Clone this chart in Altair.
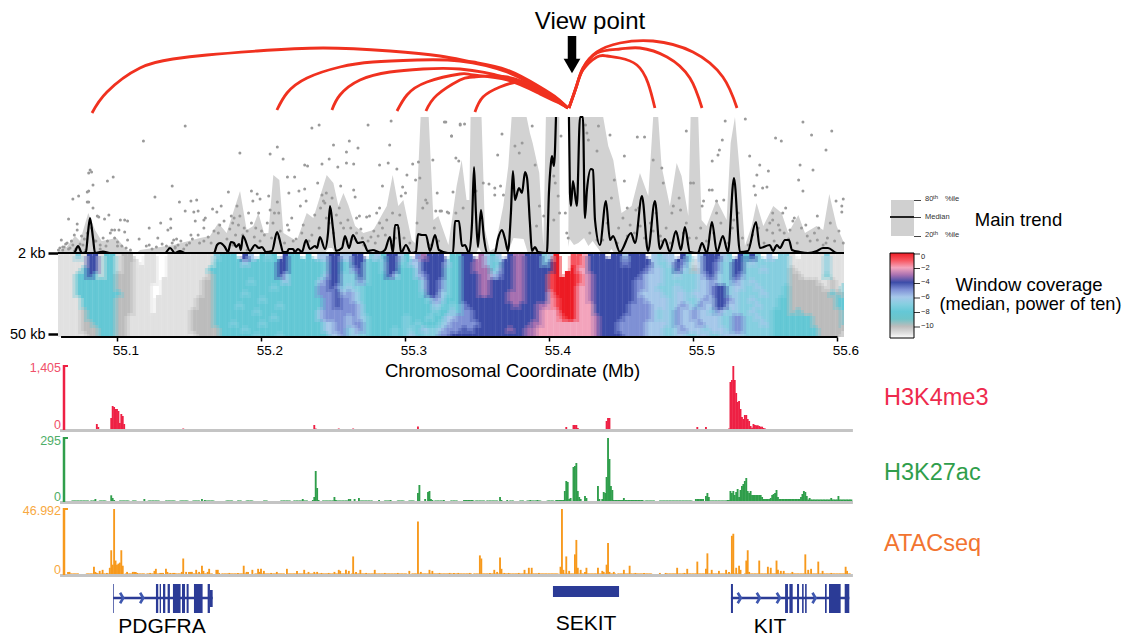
import altair as alt
import pandas as pd

# ---------- genomic x axis: kb past 55.0 Mb ----------
x_domain = [23.96, 798.96]
tick_kb = [100, 200, 300, 400, 500, 600]

# ---------- contact arcs: (kb, arc height) ----------
arcs = [
 [(82.3,-5),(92.7,16),(115.6,40),(138.5,49),(162.1,53),(196.9,57),(242.7,60),(289.2,57),(323.9,52),(346.9,46),(370.5,38),(393.4,21),(405.2,10),(412.8,0)],
 [(210.7,-2),(217.7,15),(231.6,30),(254.5,41),(277.4,46),(308,48),(337.8,47),(370.5,36),(393.4,19),(405.2,9),(412.8,0)],
 [(248.9,-2),(254.5,13),(268.4,28),(289.2,36),(312.1,39),(337.8,39),(370.5,30),(393.4,16),(405.2,7),(412.8,0)],
 [(294.1,-3),(301,13),(314.9,26),(337.8,34),(346.9,33),(370.5,28),(393.4,14),(405.2,6),(412.8,0)],
 [(314.2,-3),(321.9,13),(337.8,28),(346.9,31),(370.5,31),(393.4,18),(405.2,8),(412.8,0)],
 [(348.2,-4),(353.8,11),(365.6,21),(379.5,26),(393.4,20),(405.2,8),(412.8,0)],
 [(413.5,0),(419,23),(423.2,38),(432.9,51),(439.9,52),(448.9,50),(460.7,43),(468.4,25),(473.2,0)],
 [(413.5,0),(419,23),(423.2,39),(432.9,55),(448.9,59),(462.8,60),(481.6,51),(497.5,30),(505.9,0)],
 [(413.5,0),(419,23),(423.2,40),(432.9,56),(448.9,65),(471.9,67),(499.6,56),(520.4,31),(530.2,0)],
]

# ---------- main trend ----------
median_trend = [(60.1,0),(69.8,0),(72.6,7),(75.3,0),(78.1,1),(79.5,20),(80.9,35),(83,15),(84.4,0),(89.9,1.5),(94.8,0),(133,0),(136.5,5),(139.9,0),(143.4,2),(146.9,0),(167,0),(169.1,8),(171.2,10),(174.6,6),(176.7,1),(178.8,11),(180.9,10),(182.3,6),(184.4,9),(185.7,3),(187.1,17),(192,2),(195.5,8),(198.2,5),(200.3,6),(203.1,1),(207.3,2),(210.8,21),(213.5,8),(214.9,1),(217.7,1),(219,4),(221.9,4),(223.2,1),(225.3,4),(228.1,1),(230.9,13),(233.7,4),(237.1,7),(238.5,5),(240.6,16),(244.1,4),(246.2,20),(247.6,47),(249.6,25),(251.7,2),(255.9,5),(258,17),(260.8,5),(263.5,18),(267,10),(270.5,11),(273.9,2),(277.4,3),(282.3,0.5),(285.7,3),(289.2,16),(291.3,0),(292.7,28),(294.8,28),(296.9,0),(300.3,8),(303.8,0),(307.3,1),(308.7,19),(311.4,18),(314.2,18),(317,2),(320.5,18),(323.2,3),(329.5,0),(333,0),(334.4,32),(337.1,32),(339.2,7),(341.3,8),(344.1,0),(346.2,30),(347.6,86),(348.9,40),(350.3,6),(352.4,43),(354.5,15),(356.6,0),(362.1,0),(364.2,14),(367,23),(369.1,14),(371.2,2),(373.2,40),(374.6,82),(376,53),(378.8,65),(380.9,60),(383,81),(384.4,75),(386.4,30),(387.8,2),(389.9,6),(392,1),(398.2,0),(399.6,60),(401,90),(401.7,97),(403.1,87),(404.5,136),(405,None),(413,None),(413.5,136),(414.2,60),(414.9,47),(416.3,72),(419,47),(421.2,136),(423.2,136),(424.6,35),(426,63),(428.8,84),(430.2,83),(431.6,33),(435,8),(439.2,52),(442,13),(444.1,17),(448.9,1),(456.6,20),(459.4,10),(464.2,57),(468.4,2),(473.2,52),(476.7,4),(480.2,14),(483.6,1),(487.8,22),(491.3,3),(494,26),(497.5,1),(503.1,0),(505.9,10),(509.3,0),(512.8,31),(516.3,1),(520.4,17),(523.9,1),(528.1,75),(532.3,1),(537.8,2),(543.4,31),(546.1,5),(553,8),(555.2,2),(557.9,8),(560,5),(563.5,13),(566.3,13),(568.4,3),(573.9,1),(579.5,0),(585.7,2),(589.9,5),(593.4,5),(599.6,0),(603.8,0)]

p80_trend = [(58.9,2),(64.7,6),(70.5,17),(74,12),(79.7,40),(84.4,23),(89,12),(99.4,15),(106.4,3),(113.3,0),(115.6,3),(138.8,8),(157.3,15),(164.2,17),(170,30),(175.8,20),(185.1,62),(189.7,23),(194.3,27),(197.8,40),(201.8,20),(204.8,20),(208.2,78),(212.4,73),(215.2,20),(224.4,12),(231.4,40),(236,35),(245.3,78),(249.9,70),(253.4,47),(256.9,60),(260.3,48),(265,27),(270.7,20),(277.7,23),(287,47),(291.1,78),(295,47),(298.5,53),(304.3,13),(306.6,10),(310.5,136),(316.1,136),(319.4,33),(322.8,37),(329.8,8),(335.5,67),(339,93),(342.4,53),(344.3,53),(345.2,136),(352.8,136),(355.2,23),(358.6,2),(362.1,5),(367.9,47),(371.4,87),(373.7,136),(384.1,136),(386.4,120),(388.3,110),(392.9,80),(395.7,7),(397.5,136),(406.8,136),(407.2,0),(413,0),(413.7,136),(437.3,136),(440.8,107),(444.3,93),(450,40),(457,47),(462.8,80),(468.6,57),(472,136),(475.5,136),(477.8,87),(483.6,47),(488.3,90),(491.7,77),(496.4,37),(498,136),(503.3,136),(505.6,33),(509.1,27),(516,53),(523,33),(525.8,110),(528.8,136),(532.2,80),(535.7,7),(540.4,27),(543.8,50),(548.5,27),(555.4,47),(561.2,40),(565.8,20),(572.8,38),(577.4,20),(585.5,27),(590.1,23),(594.3,59),(599.4,27),(604.5,10)]

p20_trend = [(244,0),(246.5,5),(249,5),(251,0),(349,0),(351,5),(353,0),(371,0),(375,15),(382,14),(385,0),(412,0),(414,14),(417,8),(420,10),(424,15),(427,7),(430,12),(436,0),(441,0),(443,4),(445,0)]

scatter_kb = [81,80,82,83,80,79,79,80,73,69,66,72,72,61,60,68,70,75,83,86,87,94,91,93,97,96,98,101,102,105,107,105,107,100,118,115,122,120,122,126,128,130,135,137,137,138,139,141,143,147,147,151,155,153,156,154,160,161,160,151,156,166,169,172,177,179,180,185,183,185,193,197,199,194,198,191,205,206,211,215,211,212,206,218,223,219,226,230,231,227,219,235,240,230,232,242,247,250,239,245,242,243,253,259,264,259,261,267,274,255,264,265,268,273,275,280,282,282,288,290,289,294,284,298,300,297,301,305,309,307,310,314,315,319,322,321,325,330,328,332,337,338,262,266,270,274,278,282,286,290,295,299,255,250,245,240,235,228,222,218,212,208,200,195,188,182,176,170,165,160,150,142,327,338,341,332,335,333,324,329,367,364,354,358,362,366,368,362,349,335,340,379,381,376,390,388,408,403,406,407,404,393,391,396,425,427,426,433,434,442,445,452,461,466,452,454,460,472,478,479,495,513,517,518,520,522,536,539,546,544,552,542,543,548,551,557,561,576,582,574,583,573,576,592,596,599,604,603,603,586,564,562,555,555,551,555,560,567,569,579,586,592,513,511,507,506,516,521,528,516,498,500,486,491,485,412,413,411,403,428,433,437,447,454,463,472,477,484,493,502,64,66,63,76,78,84,88,92,62,70,136,140,146,180,190]
scatter_h = [83,80,81,68,62,61,51,51,57,54,34,29,23,13,5,12,18,17,45,37,36,38,34,72,76,23,23,23,33,33,32,21,13,7,112,14,25,7,8,56,15,30,23,34,25,67,13,14,51,42,127,52,53,41,42,32,33,35,25,18,18,44,41,47,61,37,30,100,47,37,62,59,54,52,40,40,57,99,106,94,51,40,43,76,76,60,62,64,52,47,23,125,128,88,87,89,94,108,70,60,58,52,86,90,89,101,112,105,128,67,63,56,37,36,37,40,45,88,90,132,108,84,67,66,60,57,78,89,91,73,75,53,50,93,60,42,42,40,131,117,92,128,25,20,15,12,22,30,18,12,25,15,30,20,35,25,18,20,12,28,15,30,22,16,25,18,14,20,10,12,10,8,131,129,129,117,95,61,42,41,119,98,70,69,65,67,58,58,62,40,45,100,110,107,88,127,117,77,57,40,70,47,27,37,128,113,120,102,127,118,73,97,116,116,72,45,43,93,85,70,122,92,98,103,113,132,134,97,88,78,82,67,58,65,66,115,112,131,118,88,83,73,62,103,122,52,54,47,41,37,45,40,40,33,23,20,23,23,32,17,13,10,63,63,52,47,52,53,33,40,70,70,47,43,40,20,15,40,33,20,13,13,10,17,27,22,17,10,20,15,9,4,6,8,3,12,4,7,3,2,5,6,4,8,3]
scatter_low = [(59,3),(62,6),(65,10),(67,5),(69,8),(71,4),(74,9),(77,14),(79,20),(82,25),(85,12),(88,8),(90,15),(93,12),(95,20),(98,15),(100,11),(103,7),(106,5),(109,3),(124,4),(127,6),(131,9),(134,7),(138,10),(140,5),(144,12),(148,8),(152,14),(157,10),(163,16),(167,22),(171,28),(174,32),(178,24),(181,35),(184,28),(187,18),(190,22),(193,30),(196,25),(199,12),(202,18),(204,30),(207,15),(209,40),(213,22),(216,10),(221,35),(224,14),(229,28),(233,12),(237,38),(241,45),(244,50),(247,30),(249,55),(252,38),(254,45),(257,25),(260,33),(263,14),(266,35),(269,24),(271,8),(276,16),(279,10),(281,17),(284,25),(287,33),(291,40),(293,15),(296,38),(303,10),(308,30),(312,45),(317,8),(320,25),(323,12),(505,25),(509,12),(514,20),(519,30),(524,10),(527,25),(531,40),(534,15),(538,8),(541,18),(545,25),(549,10),(553,30),(556,12),(559,28),(563,20),(566,14),(570,35),(572,10),(575,25),(578,28),(581,12),(584,20),(587,25),(590,8),(593,15),(595,30),(598,12),(601,22),(604,10),(440,30),(443,55),(448,25),(451,35),(456,28),(459,20),(462,45),(466,15),(470,30),(474,40),(478,12),(481,25),(488,20),(490,55),(495,30),(497,15)]

# ---------- window coverage: one block per 40 kb, one string per window row ----------
heat_start_kb = 58.7
heat_end_kb = 604.5
heat_col_kb = 4
heat_blocks = [
 ["bbb7b44b88","bbbbb44b88","bbbb844b88","bbb8848b88","bbb8888888","bbb8888888","bbb8888888","bbbb888888","bbbb888888","bbbba88888","bbbba88888","bbbbaa8888","bbbbaaa888","bbbbbaa888"],
 ["baa..bb..b","baab.bb..b","baabbbb..b","aaabbbb..b","aaabbbb.bb","aaabbb..bb","8aabbb..bb","aaabbb.bbb","aaabbb.bbb","aaabbb.bbb","aabbbbbbbb","aabbbbbbbb","aabbbbbbbb","aabbbbbbbb"],
 ["bbbbbbb788","bbbbbbb888","bbbbbb8888","bbbbbba888","bbbbbaa888","bbbbbaa888","bbbbbaa888","bbbbaaa888","bbbbaaa888","bbbaaaa888","bbbaaaa888","bbbaaaa888","bbbaaaaa88","bbbbaaaa88"],
 ["8.46.878.4","8868888844","8888888844","8888888846","8887888886","8888888788","8878888888","8888878888","8788888878","8888788888","8888888788","7888878888","8878888888","8888788878"],
 ["88.8.66446","8888887448","8888887448","8888886447","8888865447","8888855457","8888855546","8888885545","8888885545","8888865555","8888865555","8888886655","8888886655","8888888665"],
 ["644.768446","7447887447","7547887448","7747888468","7757888888","6778888888","5678888888","5678888888","5568888888","5568888888","6567888888","6557888888","7657888878","7677888878"],
 ["8.53444.88","8664444688","8864444788","8865444788","8886445788","8886445788","8887446788","8888756888","8888867878","8888878868","7888788665","7878887655","7786776555","7687775544"],
 ["44.3686.43","4433687443","4433386443","4443365443","4443344443","4443344443","4443344433","4444444433","5444444443","5544444444","5544444444","5554444444","4544444434","4444444444"],
 ["3444760..1","3444740..1","3444440..0","3444410.00","3444410000","3444410000","3444420000","3444421000","4443321000","4443222000","4443222100","4433222222","4332222222","4332222222"],
 ["12444.4464","1244444454","2244444444","1234444444","1234444444","2234444444","2234444444","2234444444","2224444445","2224444445","2223444455","2223444555","2223444555","2223444455"],
 ["44.6766.47","4446776457","4456677467","4566677677","5566677777","5566777677","5666677667","5566667667","5556667656","5556767566","5556767566","5566667566","5566677656","5566677667"],
 [".644467.48","b644577447","a644577447","7654677457","7665677567","7665447667","6665447677","7656445677","7566446677","5667567677","5666677557","6566677557","6676667557","7667766667"],
 ["47.6.77b.b","6777777bbb","7767777abb","7777777aab","6777777aaa","7677778aaa","7767778aaa","6777788aaa","7677788aaa","6777888a8a","7677888888","7767888888","7777888888","7777888888"],
 ["bbb7bbb","bbb7bbb","bbb7bbb","bbb8bbb","aabbabb","aaabab8","aaaa8a8","aaaaa88","aaaaa88","aaaaaa8","8aaaaa8","8aaaaa8","88aaaaa","88aaaab"],
]
heat_domain = [-11.6,-11,-10,-9,-8,-7,-6,-5,-4,-3.3,-2.3,-1.5,-0.8,0]
heat_colors = ['#ffffff','#e2e2e2','#bcbcbc','#6ec4c9','#64c8d6','#86cfe0','#a6c8ea','#7f91d6','#3c4ca8','#7f5fa8','#f2a8c4','#f6a0b0','#f0333a','#ee1c25']
legend_ticks = [0,-2,-4,-6,-8,-10]

# ---------- signal tracks: (kb bin, height in 64ths of the track range) ----------
h3k4me3 = [(85,6),(86,3),(94,1),(95,12),(96,24),(97,23),(98,21),(99,21),(100,19),(101,7),(102,16),(103,14),(104,6),(145,1.5),(236,5),(237,1.5),(253,1.5),(263,1.5),(308,3.5),(365,1),(408,1),(411,3),(412,1),(416,5),(417,5),(418,5),(419,2),(439,9),(440,12),(441,12),(502,3),(508,3),(510,1),(524,1.5),(525,48),(526,50),(527,64),(528,50),(529,37),(530,28),(531,29),(532,21),(533,13),(534,11),(535,15),(536,15),(537,11),(538,9),(539,4),(540,2.3),(541,6),(542,5),(543,4.7),(544,4.7),(545,4),(546,3.3),(547,3.3),(548,2),(549,1.5),(555,1),(556,1),(557,1),(558,1)]
h3k27ac_peaks = [(84,3),(95,6.7),(96,4),(97,2),(118,3),(158,3),(160,2),(228,3),(235,2),(236,5),(237,31),(238,14),(239,2),(250,5),(251,2),(260,3),(261,3),(264,3),(267,4),(281,2),(289,2),(308,9),(309,17),(313,3),(315,10),(316,11),(317,3),(318,2),(326,2),(365,5),(366,2),(370,2),(386,2),(391,2),(410,11),(411,21),(412,20),(413,3),(414,4),(416,35),(417,36),(418,39),(419,11),(420,5),(421,3),(424,6),(425,4),(433,16),(434,3),(436,3),(437,10),(438,9),(439,25),(440,64),(441,43),(442,16),(443,12),(451,4),(508,6),(509,9),(510,5),(525,11),(526,9),(527,11),(528,7),(529,10),(530,13),(531,5),(532,12),(533,16),(534,18),(535,21),(536,24),(537,11),(538,9),(539,11),(540,7),(547,5),(553,4),(554,7),(555,8),(556,9),(557,12),(558,5),(574,5),(575,8),(576,11),(577,10),(578,6),(580,4),(595,4),(600,6)]
h3k27ac_low = [(68,73,1.5),(74,79,1.5),(81,84,1.5),(87,91,1.5),(101,107,1.5),(110,112,1.5),(121,128,1.5),(133,139,1.5),(143,148,1.5),(152,156,1.5),(161,166,1.5),(175,179,1.5),(183,185,1.5),(189,193,1.5),(201,203,1.5),(213,219,1.5),(222,231,1.5),(242,250,1.5),(252,260,1.5),(267,276,1.5),(285,288,1.5),(294,298,1.5),(302,305,1.5),(320,325,1.5),(331,335,1.5),(340,346,2),(348,354,1.5),(356,363,1.5),(372,374,1.5),(379,381,1.5),(384,393,1.5),(398,402,1.5),(404,409,2),(444,464,2),(466,472,1.5),(476,498,1.5),(501,506,3),(511,522,1.5),(523,524,2),(541,546,7),(544,552,3),(559,573,3),(578,594,2.5),(596,609,2.5)]
atac_peaks = [(65,3),(66,3),(69,1),(83,8),(84,3),(85,2),(87,4),(89,5),(92,2),(94,7),(95,24),(96,10),(97,66),(98,14),(99,10),(100,11),(101,12),(102,24),(103,9),(106,3),(110,3),(111,3),(112,3),(113,2),(118,1),(122,2),(125,4),(126,6),(129,2),(130,2),(131,2),(133,6),(134,3),(136,2),(138,2),(139,2),(144,3),(145,16),(147,3),(149,3),(150,3),(151,3),(154,5),(156,3),(158,9),(159,4),(162,3),(163,6),(168,5),(169,5),(170,2),(177,2),(183,2),(187,9),(189,3),(190,3),(193,5),(197,6),(198,3),(199,6),(201,4),(206,2),(210,3),(217,6),(224,4),(229,5),(232,3),(236,3),(238,3),(241,2),(246,2),(250,3),(253,5),(254,4),(258,5),(260,4),(263,18),(265,3),(268,5),(272,2),(278,5),(285,2),(294,2),(302,4),(308,52),(310,3),(316,5),(318,4),(323,2),(330,2),(333,2),(336,2),(340,1),(344,2),(351,19),(352,16),(358,2),(361,5),(363,3),(365,17),(366,6),(368,2),(371,2),(378,2),(382,5),(385,7),(387,7),(392,2),(400,1),(407,8),(408,66),(409,5),(411,18),(413,4),(417,20),(418,34),(419,7),(421,5),(424,3),(425,7),(433,7),(436,4),(437,3),(439,10),(440,31),(441,3),(444,3),(451,5),(455,9),(459,2),(465,2),(476,2),(480,2),(488,7),(493,2),(495,6),(502,13),(508,6),(509,21),(512,5),(517,4),(522,5),(524,3),(526,38),(527,40),(529,7),(531,9),(532,5),(536,14),(537,24),(538,3),(545,14),(551,8),(553,7),(557,14),(558,5),(560,4),(562,4),(568,3),(577,20),(579,5),(581,6),(586,13),(589,4),(595,2),(605,8),(606,4)]
atac_low = [(66,72,1.5),(78,95,1.5),(105,118,1.5),(120,130,1.5),(135,145,1.5),(150,165,1.5),(172,190,1.5),(195,215,1.5),(218,260,1.5),(262,300,1.5),(304,345,1.5),(347,405,1.5),(410,445,1.5),(447,470,1.5),(480,530,1.5),(535,608,1.5)]
h3k4me3_max, h3k27ac_max, atac_max = 1405, 295, 46.992

# ---------- genes ----------
genes = [(97.0,166.1),(526,608.2)]
exons_tall = [(97.0,97.5),(126.7,128.3),(129.3,130.2),(131.6,133.2),(134.8,136.4),(138.5,143.8),(144.8,146.9),(148,149.4),(153.1,159.1),(162.6,164.2),(526,527.4),(563.6,565.6),(566.6,568.9),(571.9,573.3),(575.4,576.5),(577.5,578.6),(591.3,592.5),(594.1,602.2),(605,608.2)]
exons_short = [(164.2,166.1)]
enhancer = [(402.4,448.3)]
strand_kb = [102.9,116.8,531.8,545,558.9,583.7]

# ---------- build ----------
FONT = "Liberation Sans"
W, H = 1116, 633
X = alt.Scale(domain=x_domain)
one = alt.Data(values=[{"a":1}])

def kx(field="kb", **kw):
    return alt.X(field, type="quantitative", scale=X, axis=None, **kw)

def txt(s, px, py, size, color="black", align="center", **kw):
    return alt.Chart(one).mark_text(font=FONT, fontSize=size, color=color, align=align, baseline="middle", **kw).encode(
        x=alt.value(px-8), y=alt.value(py-8), text=alt.value(s))

def box(x0, x1, y0, y1, color):
    return alt.Chart(one).mark_rect(color=color).encode(x=alt.value(x0-8), x2=alt.value(x1-8), y=alt.value(y0-8), y2=alt.value(y1-8))

layers = []

# heat map with real axes
cells = []
col = 0
for block in heat_blocks:
    n = len(block[0])
    for r, s in enumerate(block):
        for j, ch in enumerate(s):
            if ch != ".":
                k = heat_start_kb + heat_col_kb*(col+j)
                cells.append({"kb":k,"kb2":min(k+heat_col_kb,heat_end_kb),"row":r,"row2":r+1,"v":-int(ch,16)})
    col += n
cells_df = pd.DataFrame(cells)
Yheat = alt.Scale(domain=[0,14], range=[245,329], nice=False, zero=False)
Cheat = alt.Scale(domain=heat_domain, range=heat_colors)
heat = alt.Chart(cells_df).mark_rect(stroke=None).encode(
    x=alt.X("kb:Q", scale=X, title="Chromosomal Coordinate (Mb)",
            axis=alt.Axis(offset=329-H, values=tick_kb, labelExpr="format(55+datum.value/1000,'.1f')", domain=False, grid=False,
                          tickSize=4, tickWidth=1.5, tickColor="black", labelFont=FONT, labelFontSize=13.5, labelColor="black",
                          labelOffset=8, labelPadding=2, labelFlush=False, titleFont=FONT, titleFontSize=18.6, titleFontWeight="normal",
                          titleColor="black", titleX=504, titleY=24)),
    x2="kb2:Q",
    y=alt.Y("row:Q", scale=Yheat,
            axis=alt.Axis(title=None, values=[0,13.5], labelExpr="datum.value==0?'2 kb':'50 kb'", domain=False, grid=False, offset=-50,
                          tickSize=10, tickWidth=2.5, tickColor="black", labelFont=FONT, labelFontSize=14.5, labelColor="black", labelPadding=3)),
    y2="row2:Q",
    color=alt.Color("v:Q", scale=Cheat,
                    legend=alt.Legend(orient="none", legendX=882, legendY=245, title=None, direction="vertical",
                                      gradientLength=85, gradientThickness=24, values=legend_ticks,
                                      labelExpr="replace(datum.label,'-','\u2212')", labelFont=FONT, labelFontSize=7.5, labelColor="#222",
                                      gradientStrokeColor="black", gradientStrokeWidth=1, labelOffset=7)),
)
layers.append(heat)
# the same cells once more, half a cell down-right and down-left, for the diagonal lattice of the windows
for shift, op in ((2, 0.5), (-2, 0.33)):
    sh = cells_df.copy()
    sh["kb"] = (sh["kb"]+shift).clip(heat_start_kb, heat_end_kb)
    sh["kb2"] = (sh["kb2"]+shift).clip(heat_start_kb, heat_end_kb)
    sh["row"] = (sh["row"]+0.5).clip(0, 14)
    sh["row2"] = (sh["row2"]+0.5).clip(0, 14)
    layers.append(alt.Chart(sh).mark_rect(stroke=None, opacity=op).encode(
        x=kx(), x2="kb2:Q", y=alt.Y("row:Q", scale=Yheat, axis=None), y2="row2:Q",
        color=alt.Color("v:Q", scale=Cheat, legend=None)))

Ytrend = alt.Scale(domain=[0,136], range=[245,109], nice=False, zero=False)
layers.append(alt.Chart(pd.DataFrame(p80_trend, columns=["kb","h"]).assign(z=0)).mark_area(color="#d2d2d2").encode(
    x=kx(), y=alt.Y("h:Q", scale=Ytrend, axis=None), y2="z:Q"))
layers.append(alt.Chart(pd.DataFrame(p20_trend, columns=["kb","h"]).assign(z=0)).mark_area(color="#ffffff").encode(
    x=kx(), y=alt.Y("h:Q", scale=Ytrend, axis=None), y2="z:Q"))
n_sc = min(len(scatter_kb), len(scatter_h))
sc_df = pd.concat([pd.DataFrame({"kb":scatter_kb[:n_sc],"h":scatter_h[:n_sc]}), pd.DataFrame(scatter_low, columns=["kb","h"])])
layers.append(alt.Chart(sc_df).mark_circle(color="#9a9a9a", size=9, opacity=1).encode(
    x=kx(), y=alt.Y("h:Q", scale=Ytrend, axis=None)))
layers.append(alt.Chart(one).mark_rule(color="black", strokeWidth=2).encode(x=alt.value(50), x2=alt.value(836), y=alt.value(245)))
layers.append(alt.Chart(pd.DataFrame(median_trend, columns=["kb","h"])).mark_line(color="black", strokeWidth=2.2, interpolate="monotone").encode(
    x=kx(), y=alt.Y("h:Q", scale=Ytrend, axis=None)))

# heat map x-axis line
layers.append(alt.Chart(pd.DataFrame({"kb":[60.8],"kb2":[600]})).mark_rule(color="black", strokeWidth=2).encode(
    x=kx(), x2="kb2:Q", y=alt.value(329)))

# arcs
arc_rows = [{"arc":i,"kb":k,"h":h,"o":j} for i,a in enumerate(arcs) for j,(k,h) in enumerate(a)]
layers.append(alt.Chart(pd.DataFrame(arc_rows)).mark_line(color="#f0311f", strokeWidth=2.8, interpolate="natural").encode(
    x=kx(), y=alt.Y("h:Q", scale=alt.Scale(domain=[0,100], range=[100,0], nice=False, zero=False), axis=None),
    detail="arc:N", order="o:Q"))

# tracks
def expand(peaks, low=()):
    d = {}
    for a,b,h in low:
        for k in range(a,b+1):
            d[k] = max(d.get(k,0),h)
    for k,h in peaks:
        d[k] = max(d.get(k,0),h)
    return pd.DataFrame(sorted(d.items()), columns=["kb","h"])

def track(peaks, low, vmax, y_base, y_top, color, lab_color, top_label, ly_top, ly_zero):
    df = expand(peaks, low)
    df["v"] = (df["h"]*vmax/64).clip(upper=vmax)
    df["kb2"] = df["kb"]+1.3
    df["z"] = 0
    out = [
        alt.Chart(df).mark_rect(color=color, stroke=None).encode(
            x=kx(), x2="kb2:Q",
            y=alt.Y("v:Q", scale=alt.Scale(domain=[0,vmax], range=[y_base-8,y_top-8], nice=False, zero=False), axis=None), y2="z:Q"),
        alt.Chart(pd.DataFrame({"kb":[60.1],"kb2":[610.7]})).mark_rule(color="#c4c4c4", strokeWidth=3).encode(
            x=kx(), x2="kb2:Q", y=alt.value(y_base+0.5-8)),
        alt.Chart(one).mark_rule(color=color, strokeWidth=2.5).encode(x=alt.value(64-8), y=alt.value(y_top-1-8), y2=alt.value(y_base-8)),
        alt.Chart(one).mark_rule(color=color, strokeWidth=2).encode(x=alt.value(63-8), x2=alt.value(68-8), y=alt.value(y_top-8)),
        txt(top_label, 61, ly_top, 12.5, lab_color, "right"),
        txt("0", 61, ly_zero, 12.5, lab_color, "right"),
    ]
    return out

layers += track(h3k4me3, (), h3k4me3_max, 430, 366, "#ee2044", "#f0506a", "1,405", 368, 425)
layers += track(h3k27ac_peaks, h3k27ac_low, h3k27ac_max, 502, 438, "#2f9e4b", "#4fae68", "295", 441, 497)
layers += track(atac_peaks, atac_low, atac_max, 575, 509, "#f7991c", "#f8a93f", "46.992", 511, 570)

# genes
GENE = "#2b3b96"
layers.append(alt.Chart(pd.DataFrame(genes, columns=["kb","kb2"])).mark_rule(color=GENE, strokeWidth=2.5).encode(x=kx(), x2="kb2:Q", y=alt.value(590)))
layers.append(alt.Chart(pd.DataFrame(exons_tall, columns=["kb","kb2"])).mark_rect(color=GENE, stroke=None).encode(x=kx(), x2="kb2:Q", y=alt.value(576), y2=alt.value(605)))
layers.append(alt.Chart(pd.DataFrame(exons_short, columns=["kb","kb2"])).mark_rect(color=GENE, stroke=None).encode(x=kx(), x2="kb2:Q", y=alt.value(582), y2=alt.value(599)))
layers.append(alt.Chart(pd.DataFrame(enhancer, columns=["kb","kb2"])).mark_rect(color=GENE, stroke=None).encode(x=kx(), x2="kb2:Q", y=alt.value(578), y2=alt.value(589)))
layers.append(alt.Chart(pd.DataFrame({"kb":strand_kb})).mark_point(shape="M-0.3,-1L0.3,0L-0.3,1", filled=False, color="#3f58b0", strokeWidth=2.6, size=110, opacity=1).encode(x=kx(), y=alt.value(590)))

# text
layers += [
    txt("View point", 590, 22, 24),
    txt("H3K4me3", 884, 398, 23.5, "#ee2a4d", "left"),
    txt("H3K27ac", 884, 473, 23.5, "#2f9e4b", "left"),
    txt("ATACseq", 884, 544, 23.5, "#f27430", "left"),
    txt("PDGFRA", 162, 627, 21),
    txt("SEKIT", 586, 624, 21),
    txt("KIT", 770, 627, 21),
    txt("Main trend", 1018.5, 220, 18.5),
    txt("Window coverage", 1029, 285, 18.5),
    txt("(median, power of ten)", 1030.5, 305, 18.2),
]

# arrow
layers.append(alt.Chart(one).mark_rule(color="black", strokeWidth=8.5).encode(x=alt.value(564), y=alt.value(28), y2=alt.value(52)))
layers.append(alt.Chart(one).mark_point(shape="triangle-down", filled=True, color="black", size=280, opacity=1).encode(x=alt.value(564), y=alt.value(58)))

# trend legend
layers += [
    box(891, 914, 200, 236, "#d0d0d0"),
    box(890, 914, 216, 218, "#222222"),
    box(914, 921, 200, 201, "#444444"), box(914, 921, 217, 218, "#444444"), box(914, 921, 236, 237, "#444444"),
    txt("80", 925, 199, 7.5, "#333", "left"), txt("th", 933, 197, 6, "#333", "left"), txt("%ile", 945, 199, 7.5, "#333", "left"),
    txt("Median", 925, 217, 7.5, "#333", "left"),
    txt("20", 925, 235, 7.5, "#333", "left"), txt("th", 933, 233, 6, "#333", "left"), txt("%ile", 945, 235, 7.5, "#333", "left"),
]
# gradient tick marks
for py in [253.5, 268, 283, 297.5, 312, 326.5]:
    layers.append(box(914, 920, py, py+1, "#333333"))

chart = alt.layer(*layers, data=one).resolve_scale(y="independent", color="independent").resolve_axis(x="independent").properties(
    width=W, height=H, padding=0, background="white",
    autosize=alt.AutoSizeParams(type="none", contains="padding")
).configure_view(stroke=None)

chart.save("out.html", embed_options={"renderer": "svg", "actions": False})
